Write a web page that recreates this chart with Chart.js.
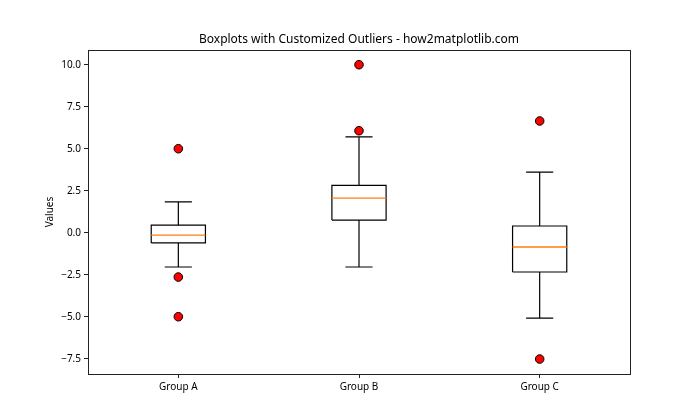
<!DOCTYPE html>
<html>
<head>
<meta charset="utf-8">
<script src="https://cdn.jsdelivr.net/npm/chart.js@4.4.1/dist/chart.umd.min.js"></script>
<style>
    html, body { margin: 0; padding: 0; background: #fff; }
    #wrap { width: 700px; height: 420px; }
</style>
</head>
<body>
<div id="wrap"><canvas id="chart" width="700" height="420"></canvas></div>
<script>
// Data
const groups = ['Group A', 'Group B', 'Group C'];
const q1Values = [-0.61, 0.75, -2.34];
const medianValues = [-0.14, 2.06, -0.85];
const q3Values = [0.45, 2.82, 0.40];
const whiskerLow = [-2.04, -2.04, -5.08];
const whiskerHigh = [1.83, 5.70, 3.61];
const outliersA = [5.0, -2.64, -5.0];
const outliersB = [10.0, 6.07];
const outliersC = [6.65, -7.52];
const yTicks = [-7.5, -5.0, -2.5, 0.0, 2.5, 5.0, 7.5, 10.0];

const boxHalf = 0.15;
const capHalf = 0.075;
const FONT = "'Noto Sans', 'DejaVu Sans', sans-serif";

// Build the line geometry for each part of the boxes, groups separated by gaps
function boxOutline() {
    const pts = [];
    groups.forEach((g, i) => {
        const x = i + 1;
        pts.push({x: x - boxHalf, y: q1Values[i]}, {x: x + boxHalf, y: q1Values[i]},
                 {x: x + boxHalf, y: q3Values[i]}, {x: x - boxHalf, y: q3Values[i]},
                 {x: x - boxHalf, y: q1Values[i]}, {x: x, y: null});
    });
    return pts;
}

function medianLines() {
    const pts = [];
    groups.forEach((g, i) => {
        const x = i + 1;
        pts.push({x: x - boxHalf, y: medianValues[i]}, {x: x + boxHalf, y: medianValues[i]}, {x: x, y: null});
    });
    return pts;
}

function whiskerLines() {
    const pts = [];
    groups.forEach((g, i) => {
        const x = i + 1;
        pts.push({x: x, y: q3Values[i]}, {x: x, y: whiskerHigh[i]}, {x: x, y: null});
        pts.push({x: x - capHalf, y: whiskerHigh[i]}, {x: x + capHalf, y: whiskerHigh[i]}, {x: x, y: null});
        pts.push({x: x, y: q1Values[i]}, {x: x, y: whiskerLow[i]}, {x: x, y: null});
        pts.push({x: x - capHalf, y: whiskerLow[i]}, {x: x + capHalf, y: whiskerLow[i]}, {x: x, y: null});
    });
    return pts;
}

function outlierPoints() {
    const pts = [];
    [outliersA, outliersB, outliersC].forEach((list, i) => {
        list.forEach(v => pts.push({x: i + 1, y: v}));
    });
    return pts;
}

const lineStyle = {
    type: 'scatter',
    showLine: true,
    spanGaps: false,
    pointRadius: 0,
    borderWidth: 1.2,
    fill: false
};

// Full frame around the plot area (matplotlib spines)
const frame = {
    id: 'frame',
    afterDraw(chart) {
        const {ctx, chartArea: a} = chart;
        ctx.save();
        ctx.strokeStyle = '#222';
        ctx.lineWidth = 1;
        ctx.strokeRect(Math.round(a.left) + 0.5, Math.round(a.top) + 0.5,
            Math.round(a.right - a.left), Math.round(a.bottom - a.top));
        ctx.restore();
    }
};

new Chart(document.getElementById('chart'), {
    type: 'scatter',
    data: {
        datasets: [
            {
                data: outlierPoints(),
                pointRadius: 4.3,
                pointBackgroundColor: '#ff0000',
                pointBorderColor: '#000',
                pointBorderWidth: 1,
                showLine: false
            },
            Object.assign({}, lineStyle, {data: medianLines(), borderColor: '#ff7f0e', borderWidth: 1.3}),
            Object.assign({}, lineStyle, {data: boxOutline(), borderColor: '#000'}),
            Object.assign({}, lineStyle, {data: whiskerLines(), borderColor: '#000'})
        ]
    },
    options: {
        responsive: false,
        animation: false,
        events: [],
        layout: { padding: { left: 18, right: 0, top: 0, bottom: 0 } },
        plugins: {
            legend: { display: false },
            tooltip: { enabled: false },
            title: {
                display: true,
                text: 'Boxplots with Customized Outliers - how2matplotlib.com',
                color: '#000',
                font: { family: FONT, size: 12, weight: 'normal', lineHeight: 1.2 },
                padding: { top: 32.8, bottom: 2.8 }
            }
        },
        scales: {
            x: {
                type: 'linear',
                min: 0.5,
                max: 3.5,
                afterBuildTicks: scale => { scale.ticks = groups.map((g, i) => ({value: i + 1})); },
                afterFit: scale => { scale.height = 46; },
                ticks: {
                    color: '#000',
                    padding: 3,
                    font: { family: FONT, size: 10 },
                    callback: v => groups[v - 1]
                },
                grid: { drawOnChartArea: false, tickLength: 4, color: '#222' },
                border: { display: false }
            },
            y: {
                min: -8.41,
                max: 10.875,
                afterBuildTicks: scale => { scale.ticks = yTicks.map(v => ({value: v})); },
                afterFit: scale => { scale.width = 70; },
                ticks: {
                    color: '#000',
                    padding: 3,
                    font: { family: FONT, size: 10 },
                    callback: v => v.toFixed(1).replace('-', '\u2212')
                },
                grid: { drawOnChartArea: false, tickLength: 4, color: '#222' },
                border: { display: false },
                title: {
                    display: true,
                    text: 'Values',
                    color: '#000',
                    font: { family: FONT, size: 10 },
                    padding: { top: 26, bottom: 0 }
                }
            },
            // empty right-hand axis that only reserves the right margin
            yRight: {
                position: 'right',
                min: -8.41,
                max: 10.875,
                afterFit: scale => { scale.width = 70; },
                ticks: { display: false },
                grid: { display: false },
                border: { display: false }
            }
        }
    },
    plugins: [frame]
});
</script>
</body>
</html>
